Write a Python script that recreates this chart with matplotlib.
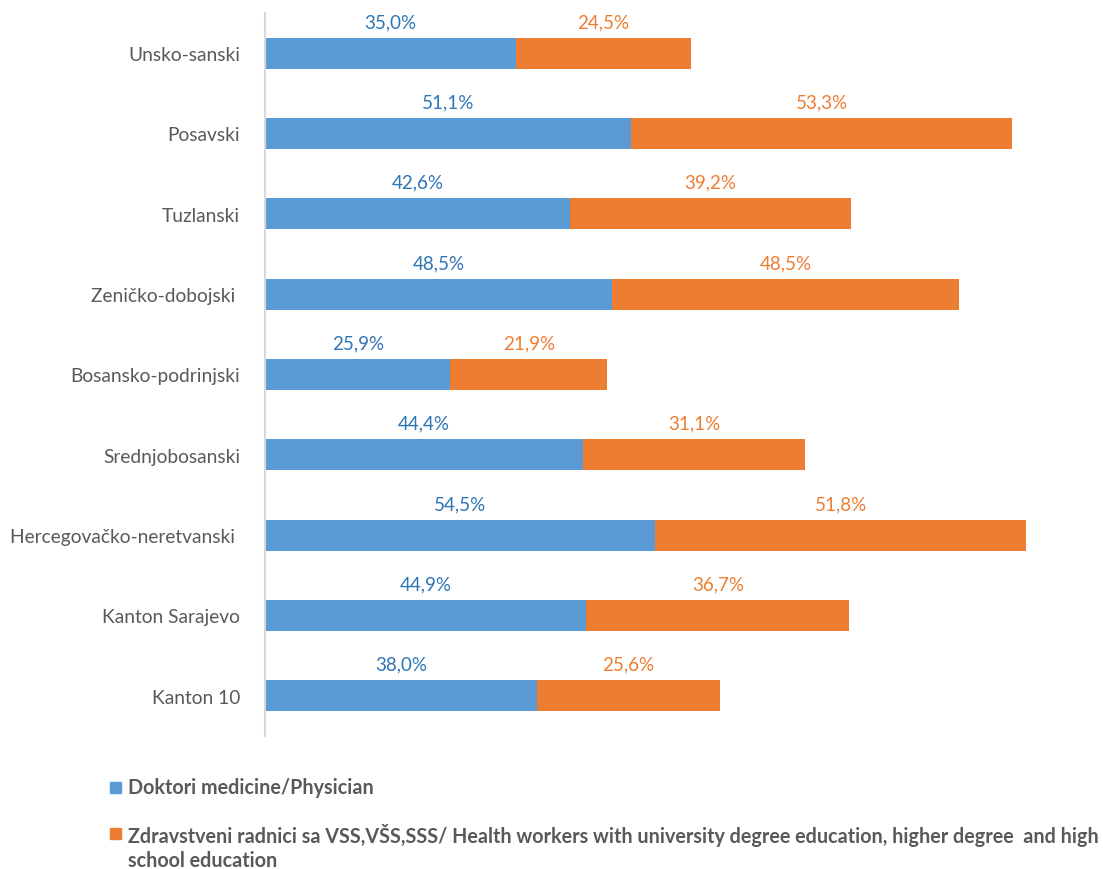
import matplotlib
matplotlib.use("Agg")
import matplotlib.pyplot as plt
from matplotlib.patches import Rectangle

plt.rcParams['font.family'] = ['Lato', 'DejaVu Sans']

categories = ["Unsko-sanski", "Posavski", "Tuzlanski", "Zeničko-dobojski ",
              "Bosansko-podrinjski", "Srednjobosanski", "Hercegovačko-neretvanski ",
              "Kanton Sarajevo", "Kanton 10"]
physicians = [35.0, 51.1, 42.6, 48.5, 25.9, 44.4, 54.5, 44.9, 38.0]
health_workers = [24.5, 53.3, 39.2, 48.5, 21.9, 31.1, 51.8, 36.7, 25.6]
series_names = ["Doktori medicine/Physician",
                "Zdravstveni radnici sa VSS,VŠS,SSS/ Health workers with university degree education, higher degree  and high\nschool education"]

blue = "#5B9BD5"
orange = "#ED7D31"
blue_txt = "#2E75B6"
gray = "#595959"

W, H = 1103, 870
fig = plt.figure(figsize=(W / 100, H / 100), dpi=100)
ax = fig.add_axes([265 / W, 1 - 737 / H, 786 / W, (737 - 14) / H])

y = list(range(len(categories)))
bh = 0.385
ax.barh(y, physicians, height=bh, color=blue)
ax.barh(y, health_workers, left=physicians, height=bh, color=orange)

for i, (p, h) in enumerate(zip(physicians, health_workers)):
    ax.text(p / 2, i - bh / 2 - 0.2, f"{p:.1f}%".replace(".", ","), ha="center",
            va="center", color=blue_txt, fontsize=13.5)
    ax.text(p + h / 2, i - bh / 2 - 0.2, f"{h:.1f}%".replace(".", ","), ha="center",
            va="center", color=orange, fontsize=13.5)

ax.set_xlim(0, 109.8)
ax.set_ylim(8.5, -0.5)
ax.set_yticks(y)
ax.set_yticklabels(categories, fontsize=13.8, color=gray)
ax.tick_params(axis="y", length=0, pad=18)
ax.set_xticks([])
for s in ["top", "right", "bottom"]:
    ax.spines[s].set_visible(False)
ax.spines["left"].set_color("#D9D9D9")
ax.spines["left"].set_linewidth(1.5)

# legend
leg_y = [788, 834]
for col, name, yy in zip([blue, orange], series_names, leg_y):
    fig.patches.append(Rectangle((110 / W, 1 - (yy + 6) / H), 11 / W, 11 / H,
                                 transform=fig.transFigure, color=col))
    fig.text(128 / W, 1 - (yy - 10) / H, name, ha="left", va="top", fontsize=14.2,
             fontweight="bold", color=gray, linespacing=1.25)

fig.savefig("out.png", dpi=100)
